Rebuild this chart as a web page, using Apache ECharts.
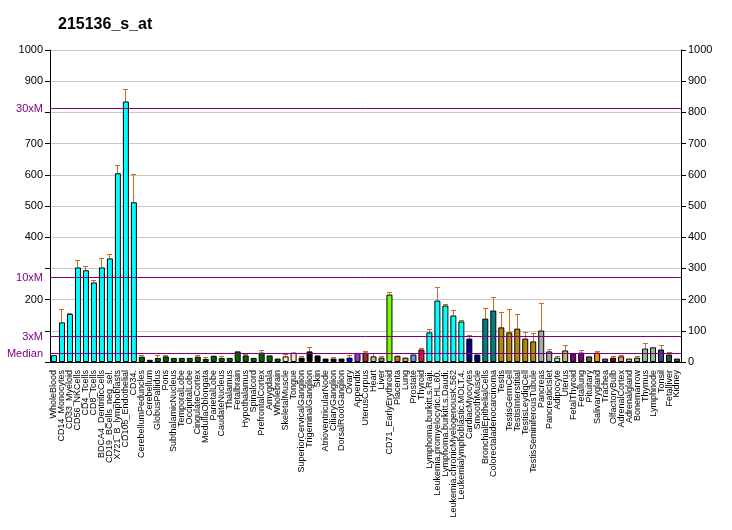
<!DOCTYPE html>
<html>
<head>
<meta charset="utf-8">
<script src="https://cdn.jsdelivr.net/npm/echarts@6/dist/echarts.min.js"></script>
<style>html,body{margin:0;padding:0;background:#fff;}#c{width:732px;height:530px;}</style>
</head>
<body>
<div id="c"></div>
<script>
const title = "215136_s_at";
const categories = ["WholeBlood","CD14_Monocytes","CD33_Myeloid","CD56_NKCells","CD4_Tcells","CD8_Tcells","BDCA4_DentriticCells","CD19_BCells_neg_sel.","X721_B_lymphoblasts","CD105_Endothelial","CD34.","CerebellumPeduncles","Cerebellum","GlobusPallidus","Pons","SubthalamicNucleus","TemporalLobe","OccipitalLobe","CingulateCortex","MedullaOblongata","ParietalLobe","CaudateNucleus","Thalamus","Fetalbrain","Hypothalamus","Spinalcord","PrefrontalCortex","Amygdala","Wholebrain","SkeletalMuscle","Tongue","SuperiorCervicalGanglion","TrigeminalGanglion","Skin","AtrioventricularNode","CiliaryGanglion","DorsalRootGanglion","Ovary","Appendix","UterusCorpus","Heart","Liver","CD71_EarlyErythroid","Placenta","Lung","Prostate","Thyroid","Lymphoma.burkitt.s.Raji.","Leukemia.promyelocytic.HL.60.","Lymphoma.burkitt.s.Daudi.","Leukemia.chronicMyelogenousK.562","Leukemialymphoblastic.MOLT.4.","CardiacMyocytes","SmoothMuscle","BronchialEpithelialCells","Colorectaladenocarcinoma","Testis","TestisGermCell","TestisInterstitial","TestisLeydigCell","TestisSeminiferousTubule","Pancreas","PancreaticIslet","Adipocyte","Uterus","FetalThyroid","Fetallung","Pituitary","Salivarygland","Trachea","OlfactoryBulb","AdrenalCortex","Adrenalgland","Bonemarrow","Thymus","Lymphnode","Tonsil","Fetalliver","Kidney"];
const values = [22,127,154,303,294,255,303,332,605,835,512,17,7,13,18,13,13,13,17,10,20,13,13,34,21,13,30,21,11,18,30,14,34,21,11,11,11,14,29,30,18,14,216,20,14,24,40,95,197,181,149,130,75,24,139,165,111,95,107,75,66,101,34,14,37,27,30,18,30,11,14,18,11,14,43,47,40,24,11];
const errTop = [22,169,157,324,307,262,332,345,629,875,601,21,7,20,20,13,13,13,20,13,20,17,13,34,23,13,37,21,11,24,30,17,45,21,11,13,11,21,29,34,28,18,222,20,14,24,43,103,238,184,164,133,84,24,171,206,158,167,152,95,91,187,39,18,53,27,37,18,34,11,18,21,11,18,59,47,53,30,11];
const colors = ["#00FFFF","#00FFFF","#00FFFF","#00FFFF","#00FFFF","#00FFFF","#00FFFF","#00FFFF","#00FFFF","#00FFFF","#00FFFF",
"#006400","#006400","#006400","#006400","#006400","#006400","#006400","#006400","#006400","#006400","#006400","#006400","#006400","#006400","#006400","#006400","#006400","#006400",
"#FFE4C4","#FFE4C4","#000000","#000000","#000000","#000000","#000000","#000000",
"#0000FF","#9932CC","#A52A2A","#D2B48C","#5F9EA0","#7CFC00","#D2691E","#FF7F50","#6495ED","#DC143C",
"#00FFFF","#00FFFF","#00FFFF","#00FFFF","#00FFFF","#000080","#000080","#008080","#008080",
"#B8860B","#B8860B","#B8860B","#B8860B","#B8860B","#A9A9A9","#A9A9A9","#7FFFD4","#BDB76B","#800080","#800080","#556B2F","#FF8C00","#9932CC","#8B0000","#E9967A","#FFA07A","#8FBC8F","#8FBC8F","#8FBC8F","#483D8B","#2F4F4F","#2F4F4F"];
const median = 27.1;
const refNames = ["Median","3xM","10xM","30xM"];
const refMults = [1,3,10,30];
const hiddenLeftTicks = [0,100,300,800];

const FONT = "'Liberation Sans', Arial, sans-serif";
const PURPLE = '#800080';
const chart = echarts.init(document.getElementById('c'));
chart.setOption({
  animation:false,
  title:{text:title,left:53,top:12,textStyle:{fontFamily:FONT,fontSize:16,fontWeight:'bold',color:'#000'}},
  grid:{left:50,right:51,top:50,bottom:168},
  xAxis:{type:'category',data:categories,
    axisLine:{lineStyle:{color:'#000'}},
    axisTick:{alignWithLabel:true,interval:0,length:5,lineStyle:{color:'#000'}},
    axisLabel:{interval:0,rotate:90,fontSize:9,fontFamily:FONT,color:'#000',margin:8},
    splitLine:{show:false}},
  yAxis:[
    {type:'value',min:0,max:1000,interval:100,position:'left',
     axisLine:{show:true,lineStyle:{color:'#000'}},
     axisTick:{show:true,length:5,lineStyle:{color:'#000'}},
     axisLabel:{fontSize:11,fontFamily:FONT,color:'#000',margin:7,
       formatter:v=>hiddenLeftTicks.indexOf(v)>=0?'':String(v)},
     splitLine:{show:true,lineStyle:{color:'#C8C8C8',width:1}}},
    {type:'value',min:0,max:1000,interval:100,position:'right',
     axisLine:{show:true,lineStyle:{color:'#000'}},
     axisTick:{show:true,length:5,lineStyle:{color:'#000'}},
     axisLabel:{fontSize:11,fontFamily:FONT,color:'#000',margin:7,formatter:v=>String(v)},
     splitLine:{show:false}}
  ],
  series:[
    {type:'bar',yAxisIndex:0,barWidth:6,z:2,
     data:values.map((v,i)=>({value:v,itemStyle:{color:colors[i]}})),
     itemStyle:{borderColor:'#000',borderWidth:1}
    },
    {type:'custom',yAxisIndex:0,z:3,silent:true,clip:false,
     data:refMults.map((m,k)=>[0,median*m,k]),
     renderItem:function(params,api){
       const cs=params.coordSys;
       const y=Math.round(api.coord([0,api.value(1)])[1]-0.5)+0.5;
       const k=api.value(2);
       return {type:'group',children:[
         {type:'line',shape:{x1:cs.x,y1:y,x2:cs.x+cs.width,y2:y},style:{stroke:PURPLE,lineWidth:1}},
         {type:'text',x:cs.x-7,y:y,style:{text:refNames[k],fill:PURPLE,font:'11px '+FONT,align:'right',verticalAlign:'middle'}}
       ]};
     }},
    {type:'custom',yAxisIndex:0,z:1,
     data:values.map((v,i)=>[i,v,errTop[i]]),
     renderItem:function(params,api){
       const i=api.value(0),v=api.value(1),e=api.value(2);
       if(e<=v) return null;
       const p0=api.coord([i,v]),p1=api.coord([i,e]);
       const x=Math.round(p0[0]-0.5)+0.5, yt=Math.round(p1[1]-0.5)+0.5;
       const st={stroke:'#D2691E',lineWidth:1};
       return {type:'group',children:[
         {type:'line',shape:{x1:x,y1:p0[1],x2:x,y2:yt},style:st},
         {type:'line',shape:{x1:x-2.5,y1:yt,x2:x+2.5,y2:yt},style:st}
       ]};
     }}
  ]
});
</script>
</body>
</html>
